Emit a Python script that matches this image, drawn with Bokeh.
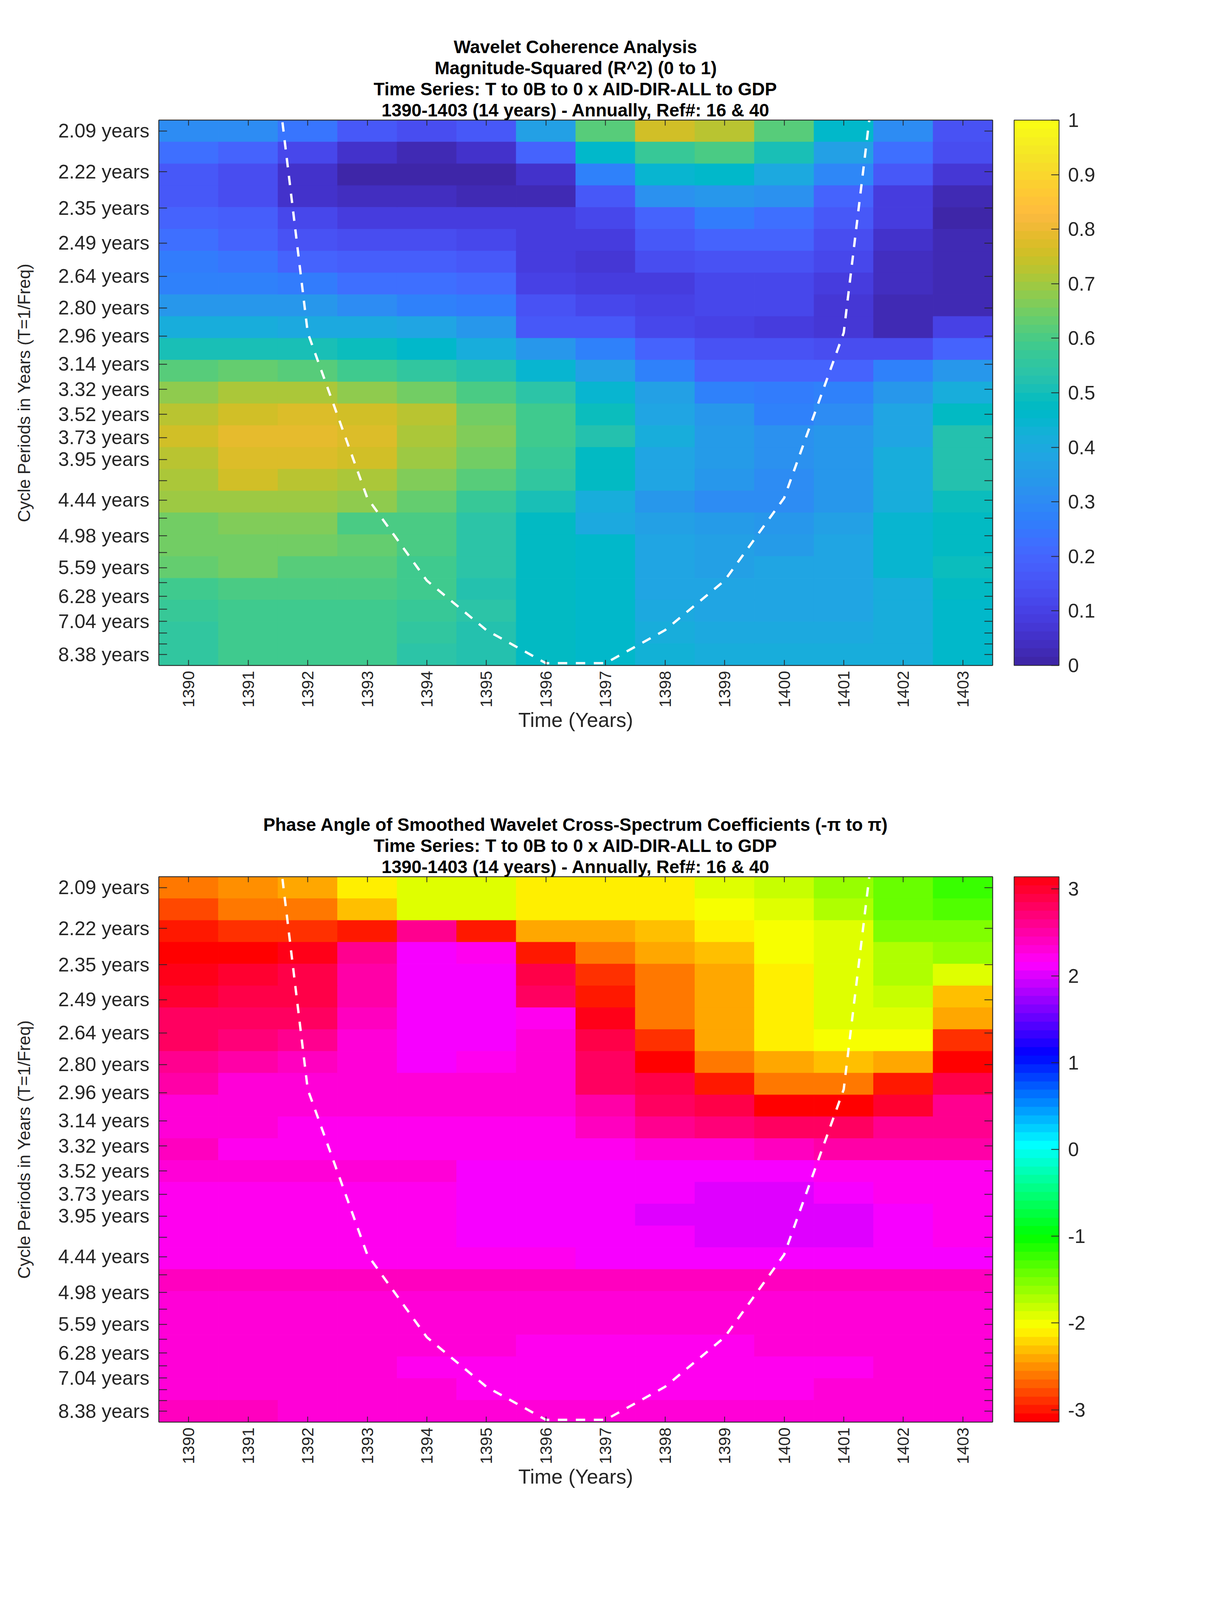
import colorsys
import math
from bokeh.embed import file_html
from bokeh.resources import INLINE
from bokeh.layouts import column
from bokeh.models import (ColorBar, ColumnDataSource, CustomJSTickFormatter, FixedTicker, Title,
                          LinearAxis, LinearColorMapper, Range1d)
from bokeh.plotting import figure

years = list(range(1390, 1404))
periods = [2.09, 2.22, 2.35, 2.49, 2.64, 2.80, 2.96, 3.14, 3.32, 3.52, 3.73, 3.95, 4.19,
           4.44, 4.70, 4.98, 5.28, 5.59, 5.93, 6.28, 6.65, 7.04, 7.46, 7.90, 8.38]
unlabelled = [4.19, 4.70, 5.28, 5.93, 6.65, 7.46, 7.90]

coi_years = [1391, 1392, 1393, 1394, 1395, 1396, 1397, 1398, 1399, 1400, 1401, 1402]
coi_periods = [1.47, 2.94, 4.41, 5.88, 7.35, 8.82, 8.82, 7.35, 5.88, 4.41, 2.94, 1.47]

r2_ticks = [0, 0.1, 0.2, 0.3, 0.4, 0.5, 0.6, 0.7, 0.8, 0.9, 1]
phase_ticks = [-3, -2, -1, 0, 1, 2, 3]

coherence = [
    [.31, .31, .24, .17, .13, .16, .37, .62, .75, .72, .62, .46, .31, .15],
    [.22, .20, .12, .06, .03, .06, .20, .46, .57, .60, .51, .37, .22, .13],
    [.16, .13, .06, .01, .01, .01, .06, .27, .45, .46, .40, .29, .16, .07],
    [.16, .13, .05, .04, .04, .02, .03, .16, .32, .33, .32, .20, .09, .03],
    [.20, .18, .12, .09, .09, .09, .08, .12, .20, .26, .22, .16, .08, .01],
    [.23, .20, .15, .14, .14, .12, .09, .09, .16, .20, .20, .13, .05, .02],
    [.26, .24, .19, .18, .18, .16, .09, .07, .13, .15, .15, .11, .04, .02],
    [.27, .27, .25, .22, .22, .21, .10, .08, .08, .11, .11, .08, .04, .02],
    [.34, .34, .33, .31, .28, .26, .15, .12, .10, .11, .11, .07, .02, .03],
    [.41, .41, .40, .40, .38, .33, .17, .17, .12, .10, .09, .07, .03, .10],
    [.51, .51, .51, .49, .46, .41, .34, .27, .20, .15, .15, .13, .14, .20],
    [.61, .63, .61, .58, .56, .52, .45, .36, .27, .20, .19, .19, .27, .34],
    [.68, .71, .71, .68, .65, .60, .54, .45, .36, .27, .26, .27, .34, .42],
    [.73, .75, .77, .76, .72, .65, .58, .49, .39, .34, .28, .31, .38, .47],
    [.76, .79, .79, .77, .71, .67, .58, .52, .42, .35, .32, .33, .39, .52],
    [.73, .77, .77, .75, .70, .65, .57, .47, .39, .35, .32, .33, .42, .52],
    [.71, .75, .73, .71, .66, .61, .55, .47, .38, .34, .31, .33, .41, .53],
    [.69, .70, .70, .68, .63, .57, .51, .42, .34, .30, .31, .33, .41, .49],
    [.65, .66, .66, .60, .60, .54, .48, .40, .36, .35, .34, .36, .44, .48],
    [.65, .65, .65, .63, .60, .54, .48, .46, .39, .37, .35, .38, .44, .48],
    [.63, .65, .62, .61, .58, .54, .48, .46, .39, .37, .38, .38, .44, .49],
    [.58, .60, .60, .60, .59, .53, .48, .46, .39, .38, .38, .38, .42, .47],
    [.57, .59, .59, .58, .57, .54, .48, .46, .40, .38, .38, .38, .41, .46],
    [.56, .58, .58, .58, .55, .53, .48, .46, .41, .40, .40, .40, .41, .46],
    [.55, .58, .58, .58, .54, .53, .48, .46, .43, .41, .41, .41, .42, .46],
]

phase = [
    [-2.65, -2.55, -2.45, -2.15, -1.87, -1.87, -2.07, -2.07, -2.07, -1.90, -1.85, -1.65, -1.42, -1.25],
    [-2.75, -2.65, -2.60, -2.26, -1.87, -1.87, -2.15, -2.15, -2.15, -2.05, -1.90, -1.72, -1.40, -1.33],
    [-2.95, -2.85, -2.85, -2.95, 2.62, -2.95, -2.45, -2.36, -2.26, -2.15, -2.05, -1.87, -1.55, -1.50],
    [-3.14, -3.14, 3.12, 2.60, 2.10, 2.20, -3.00, -2.60, -2.36, -2.26, -2.05, -1.95, -1.72, -1.65],
    [3.05, 2.98, 2.85, 2.50, 2.10, 2.12, 2.88, -2.85, -2.60, -2.36, -2.15, -1.95, -1.72, -1.93],
    [3.02, 2.88, 2.85, 2.50, 2.10, 2.10, 2.75, -3.03, -2.60, -2.36, -2.15, -1.95, -1.83, -2.26],
    [2.80, 2.80, 2.75, 2.40, 2.10, 2.10, 2.25, 3.05, -2.65, -2.36, -2.15, -1.95, -1.95, -2.45],
    [2.75, 2.70, 2.65, 2.35, 2.10, 2.10, 2.28, 2.88, -2.85, -2.45, -2.15, -2.05, -2.05, -2.88],
    [2.60, 2.55, 2.40, 2.27, 2.15, 2.25, 2.32, 2.80, -3.05, -2.65, -2.36, -2.26, -2.36, -3.14],
    [2.50, 2.35, 2.28, 2.28, 2.28, 2.28, 2.28, 2.78, 2.92, -2.95, -2.65, -2.65, -2.95, 2.88],
    [2.35, 2.28, 2.28, 2.28, 2.28, 2.28, 2.28, 2.52, 2.78, 2.92, -3.14, -3.14, 2.98, 2.65],
    [2.32, 2.32, 2.25, 2.25, 2.25, 2.25, 2.25, 2.42, 2.65, 2.70, 2.75, 2.75, 2.65, 2.62],
    [2.42, 2.22, 2.22, 2.22, 2.22, 2.22, 2.22, 2.22, 2.35, 2.35, 2.45, 2.48, 2.48, 2.48],
    [2.27, 2.27, 2.27, 2.27, 2.27, 2.14, 2.14, 2.14, 2.14, 2.14, 2.14, 2.22, 2.22, 2.22],
    [2.25, 2.25, 2.25, 2.25, 2.17, 2.14, 2.14, 2.08, 2.12, 1.97, 1.97, 2.08, 2.20, 2.20],
    [2.25, 2.25, 2.25, 2.25, 2.17, 2.14, 2.14, 2.08, 1.97, 1.97, 1.97, 1.97, 2.10, 2.20],
    [2.25, 2.25, 2.25, 2.25, 2.25, 2.14, 2.14, 2.08, 2.12, 1.97, 1.97, 1.97, 2.10, 2.20],
    [2.25, 2.25, 2.25, 2.25, 2.25, 2.25, 2.25, 2.14, 2.14, 2.14, 2.14, 2.14, 2.14, 2.14],
    [2.42, 2.42, 2.42, 2.42, 2.42, 2.42, 2.42, 2.42, 2.42, 2.42, 2.42, 2.42, 2.42, 2.42],
    [2.28, 2.28, 2.28, 2.28, 2.28, 2.28, 2.28, 2.28, 2.28, 2.28, 2.28, 2.28, 2.28, 2.28],
    [2.28, 2.28, 2.28, 2.28, 2.28, 2.28, 2.28, 2.28, 2.28, 2.28, 2.28, 2.28, 2.28, 2.28],
    [2.28, 2.28, 2.28, 2.28, 2.28, 2.28, 2.20, 2.20, 2.20, 2.20, 2.28, 2.28, 2.28, 2.28],
    [2.28, 2.28, 2.28, 2.28, 2.17, 2.17, 2.17, 2.17, 2.17, 2.17, 2.17, 2.17, 2.28, 2.28],
    [2.28, 2.28, 2.28, 2.28, 2.28, 2.17, 2.17, 2.17, 2.17, 2.17, 2.17, 2.28, 2.28, 2.28],
    [2.38, 2.38, 2.28, 2.28, 2.28, 2.28, 2.28, 2.28, 2.28, 2.28, 2.28, 2.28, 2.28, 2.35],
]

titles_top = ["Wavelet Coherence Analysis",
              "Magnitude-Squared (R^2) (0 to 1)",
              "Time Series: T to 0B to 0 x AID-DIR-ALL to GDP",
              "1390-1403 (14 years) - Annually, Ref#: 16 & 40"]
titles_bottom = ["Phase Angle of Smoothed Wavelet Cross-Spectrum Coefficients (-\u03c0 to \u03c0)",
                 "Time Series: T to 0B to 0 x AID-DIR-ALL to GDP",
                 "1390-1403 (14 years) - Annually, Ref#: 16 & 40"]

PARULA = [[0.2422, 0.1504, 0.6603], [0.2504, 0.1650, 0.7076], [0.2578, 0.1818, 0.7511], [0.2647, 0.1978, 0.7952],
          [0.2706, 0.2147, 0.8364], [0.2751, 0.2342, 0.8710], [0.2783, 0.2559, 0.8991], [0.2803, 0.2782, 0.9221],
          [0.2813, 0.3006, 0.9414], [0.2810, 0.3228, 0.9579], [0.2795, 0.3447, 0.9717], [0.2760, 0.3667, 0.9829],
          [0.2699, 0.3892, 0.9906], [0.2602, 0.4123, 0.9952], [0.2440, 0.4358, 0.9988], [0.2206, 0.4603, 0.9973],
          [0.1963, 0.4847, 0.9892], [0.1834, 0.5074, 0.9798], [0.1786, 0.5289, 0.9682], [0.1764, 0.5499, 0.9520],
          [0.1687, 0.5703, 0.9359], [0.1540, 0.5902, 0.9218], [0.1460, 0.6091, 0.9079], [0.1380, 0.6276, 0.8973],
          [0.1248, 0.6459, 0.8883], [0.1113, 0.6635, 0.8763], [0.0952, 0.6798, 0.8598], [0.0689, 0.6948, 0.8394],
          [0.0297, 0.7082, 0.8163], [0.0036, 0.7203, 0.7917], [0.0067, 0.7312, 0.7660], [0.0433, 0.7411, 0.7394],
          [0.0964, 0.7500, 0.7120], [0.1408, 0.7584, 0.6842], [0.1717, 0.7670, 0.6554], [0.1938, 0.7758, 0.6251],
          [0.2161, 0.7843, 0.5923], [0.2470, 0.7918, 0.5567], [0.2906, 0.7973, 0.5188], [0.3406, 0.8008, 0.4789],
          [0.3909, 0.8029, 0.4354], [0.4456, 0.8024, 0.3909], [0.5044, 0.7993, 0.3480], [0.5616, 0.7942, 0.3045],
          [0.6174, 0.7876, 0.2612], [0.6720, 0.7793, 0.2227], [0.7242, 0.7698, 0.1910], [0.7738, 0.7598, 0.1646],
          [0.8203, 0.7498, 0.1535], [0.8634, 0.7406, 0.1596], [0.9035, 0.7330, 0.1774], [0.9393, 0.7288, 0.2100],
          [0.9728, 0.7298, 0.2394], [0.9956, 0.7434, 0.2371], [0.9970, 0.7659, 0.2199], [0.9952, 0.7893, 0.2028],
          [0.9892, 0.8136, 0.1885], [0.9786, 0.8386, 0.1766], [0.9676, 0.8639, 0.1643], [0.9610, 0.8890, 0.1537],
          [0.9597, 0.9135, 0.1423], [0.9628, 0.9373, 0.1265], [0.9691, 0.9606, 0.1064], [0.9769, 0.9839, 0.0805]]


def to_hex(rgb):
    return "#%02x%02x%02x" % tuple(int(round(c * 255)) for c in rgb)


parula64 = [to_hex(c) for c in PARULA]
hsv64 = [to_hex(colorsys.hsv_to_rgb(i / 64, 1, 1)) for i in range(64)]

INK = "#262626"
FONT = "Liberation Sans"
# The returned picture stops near 4090 px of height, so the layout is fitted to that.
FRAME_W, FRAME_H = 2134, 1396
FIG_W, TOP_H, BOTTOM_H = 3100, 2000, 2088
LEFT = 406

ytick_values = [1 / t for t in periods]
f_step = (ytick_values[0] - ytick_values[-1]) / (len(periods) - 1)
row_freqs = [ytick_values[0] - i * f_step for i in range(len(periods))]
f_top = row_freqs[0] + f_step / 2
f_bottom = row_freqs[-1] - f_step / 2
y_labels = {1 / t: ("" if t in unlabelled else "%.2f years" % t) for t in periods}
BLANK = "return ''"


def panel(matrix, palette, low, high, cticks, overrides, titles, top_px, fig_h):
    p = figure(width=FIG_W, height=fig_h, frame_width=FRAME_W, frame_height=FRAME_H,
               output_backend="svg", toolbar_location=None, title=None,
               x_range=Range1d(years[0] - 0.5, years[-1] + 0.5), y_range=Range1d(f_bottom, f_top),
               min_border_left=LEFT, min_border_top=top_px, min_border_right=FIG_W - LEFT - FRAME_W,
               min_border_bottom=fig_h - top_px - FRAME_H,
               background_fill_color="white", border_fill_color="white")
    p.grid.visible = False
    p.outline_line_color = INK
    p.outline_line_width = 2

    xs, ys, vals = [], [], []
    for i, row in enumerate(matrix):
        for j, v in enumerate(row):
            xs.append(years[j])
            ys.append(row_freqs[i])
            vals.append(v)
    mapper = LinearColorMapper(palette=palette, low=low, high=high)
    src = ColumnDataSource(dict(x=xs, y=ys, v=vals))
    cmap = {"field": "v", "transform": mapper}
    p.rect("x", "y", width=1, height=f_step, source=src, fill_color=cmap, line_color=cmap, line_width=1)
    p.line(coi_years, [1 / t for t in coi_periods], line_color="white", line_width=6, line_dash="24 22")

    xa = p.xaxis[0]
    xa.ticker = FixedTicker(ticks=years)
    xa.major_label_orientation = math.pi / 2
    xa.axis_label = "Time (Years)"
    ya = p.yaxis[0]
    ya.ticker = FixedTicker(ticks=ytick_values)
    ya.major_label_overrides = y_labels
    ya.axis_label = "Cycle Periods in Years (T=1/Freq)"

    top_ax = LinearAxis(ticker=FixedTicker(ticks=years), formatter=CustomJSTickFormatter(code=BLANK))
    right_ax = LinearAxis(ticker=FixedTicker(ticks=ytick_values), formatter=CustomJSTickFormatter(code=BLANK))
    p.add_layout(top_ax, "above")
    p.add_layout(right_ax, "right")
    for ax in (xa, ya, top_ax, right_ax):
        ax.major_tick_out = 0
        ax.minor_tick_line_color = None
        ax.axis_line_color = INK
        ax.axis_line_width = 2
        ax.major_tick_line_color = INK
        ax.major_tick_line_width = 2
        ax.major_label_text_font = FONT
        ax.major_label_text_color = INK
        ax.axis_label_text_font = FONT
        ax.axis_label_text_font_style = "normal"
        ax.axis_label_text_color = INK
    xa.major_tick_in = top_ax.major_tick_in = 14
    ya.major_tick_in = right_ax.major_tick_in = 21
    xa.major_label_text_font_size = "42px"
    ya.major_label_text_font_size = "50px"
    top_ax.major_label_text_font_size = right_ax.major_label_text_font_size = "10px"
    xa.axis_label_text_font_size = "52px"
    ya.axis_label_text_font_size = "44px"
    xa.major_label_standoff = 14
    ya.major_label_standoff = 24
    xa.axis_label_standoff = 0
    ya.axis_label_standoff = 60
    top_ax.major_label_standoff = 0
    right_ax.major_label_standoff = 0

    bar = ColorBar(color_mapper=mapper, ticker=FixedTicker(ticks=cticks), major_label_overrides=overrides,
                   width=115, height=FRAME_H, location=(55, 0), margin=0, padding=0,
                   bar_line_color=INK, bar_line_width=2, major_tick_in=20, major_tick_line_color=INK,
                   major_tick_line_width=2, minor_tick_line_color=None,
                   major_label_text_font=FONT, major_label_text_font_size="50px", major_label_text_color=INK,
                   label_standoff=23, border_line_color=None, background_fill_color=None)
    p.add_layout(bar, "right")

    for line in reversed(titles):
        p.add_layout(Title(text=line, align="center", text_font=FONT, text_font_size="46px",
                           text_font_style="bold", text_color="black", standoff=0), "above")
    return p


top = panel(coherence, parula64, 0, 1, r2_ticks, {0: "0", 1: "1"}, titles_top, 307, TOP_H)
bottom = panel(phase, hsv64, -math.pi, math.pi, phase_ticks, {t: str(t) for t in phase_ticks},
               titles_bottom, 244, BOTTOM_H)

page = column(top, bottom, spacing=0)
open("out.html", "w").write(file_html(page, INLINE))
